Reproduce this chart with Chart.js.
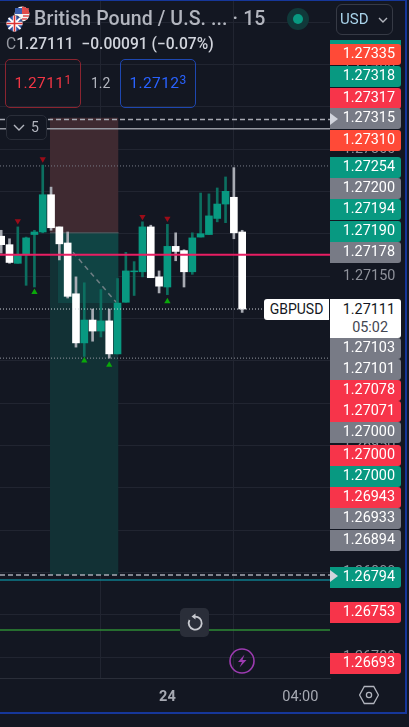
<!DOCTYPE html>
<html><head><meta charset="utf-8">
<style>
html,body{margin:0;padding:0;background:#131722;width:409px;height:727px;overflow:hidden;font-family:Roboto,sans-serif}
canvas{position:absolute;left:0;top:0}
.abs{position:absolute}
.tag{position:absolute;left:330px;width:71px;border-radius:0 3px 3px 0;color:#fff;font-size:14.4px;line-height:20px;text-align:right;padding-right:6px;box-sizing:border-box}
.arrow{position:absolute;left:330px;width:0;height:0;border-top:6px solid transparent;border-bottom:6px solid transparent;border-left:8px solid #d1d4dc}
sup{font-size:12px;vertical-align:4px;line-height:0}
</style>
<script src="https://cdn.jsdelivr.net/npm/chart.js@4"></script>
</head><body>
<canvas id="c" width="409" height="727"></canvas>
<div class="abs" style="left:330px;top:0;width:75px;height:42px;background:#131722"></div>
<div id="tags"></div>
<div class="abs" style="left:0;top:0;width:405px;height:711px;border:solid #16379a;border-width:1px 2px 2px 0;pointer-events:none"></div>

<svg class="abs" style="left:6px;top:6px" width="26" height="26" viewBox="0 0 26 26">
 <circle cx="16" cy="8" r="7.5" fill="#f5f5f5"/><path d="M16 .5a7.5 7.5 0 0 1 7.5 7.5H16z" fill="#e04b4b"/><path d="M9 2h7v6H9z" fill="#3a5fb0"/><path d="M18 3h5M18 6h5M17 10h6M16 13h5" stroke="#e04b4b" stroke-width="1.3"/>
 <circle cx="8.5" cy="17.5" r="8" fill="#2f4e9e" stroke="#131722" stroke-width=".6"/><path d="M2.5 12l12 11M14.5 12l-12 11" stroke="#fff" stroke-width="2"/><path d="M.5 17.5h16M8.5 9.5v16" stroke="#fff" stroke-width="3.4"/><path d="M.5 17.5h16M8.5 9.5v16" stroke="#d33" stroke-width="1.6"/>
</svg>
<div class="abs" style="left:34px;top:6px;color:#b2b5be;font-size:19.5px;font-weight:500;line-height:26px;white-space:nowrap;letter-spacing:.1px">British Pound / U.S. ... · 15</div>
<svg class="abs" style="left:286px;top:7px" width="24" height="24"><circle cx="12" cy="12" r="11" fill="#10393a"/><circle cx="12" cy="12" r="5" fill="#089981"/></svg>
<div class="abs" style="left:336px;top:4px;width:57px;height:31px;border:1px solid #363a45;border-radius:6px;box-sizing:border-box;color:#a9d3ea;font-size:15px;line-height:29px;padding-left:3px">USD<svg class="abs" style="left:41px;top:12px" width="10" height="7"><path d="M1 1l4 4 4-4" stroke="#b2b5be" stroke-width="1.4" fill="none"/></svg></div>
<div class="abs" style="left:6px;top:33px;font-size:15.6px;line-height:22px;color:#d1d4dc;white-space:nowrap;font-weight:500"><span style="color:#9598a1;font-weight:400">C</span>1.27111&nbsp; −0.00091 (−0.07%)</div>
<div class="abs" style="left:5px;top:59px;width:76px;height:49px;border:1.5px solid #8a2430;border-radius:5px;box-sizing:border-box;color:#f23645;font-size:15.5px;line-height:46px;text-align:center;letter-spacing:.4px">1.2711<sup>1</sup></div>
<div class="abs" style="left:91px;top:72px;color:#b2b5be;font-size:14px;line-height:22px">1.2</div>
<div class="abs" style="left:120px;top:59px;width:76px;height:49px;border:1.5px solid #1e47b0;border-radius:5px;box-sizing:border-box;color:#2962ff;font-size:15.5px;line-height:46px;text-align:center;letter-spacing:.4px">1.2712<sup>3</sup></div>
<div class="abs" style="left:6px;top:115px;width:41px;height:25px;border:1px solid #2a2e39;border-radius:5px;box-sizing:border-box;background:#131722;color:#b2b5be;font-size:14px;line-height:23px;padding-left:24px">5<svg class="abs" style="left:6px;top:8px" width="12" height="8"><path d="M1 1l5 5 5-5" stroke="#b2b5be" stroke-width="1.4" fill="none"/></svg></div>
<div class="abs" style="left:264px;top:299px;width:65px;height:21px;background:#fff;border-radius:3px 0 0 3px;color:#131722;font-size:14px;line-height:21px;text-align:center">GBPUSD</div>
<div class="abs" style="left:330px;top:299px;width:71px;height:39px;background:#fff;border-radius:0 3px 3px 0;color:#131722;font-size:14.4px;line-height:18px;text-align:right;padding:2px 6px 0 0;box-sizing:border-box">1.27111<br><span style="color:#434651;padding-right:7px">05:02</span></div>
<div class="abs" style="left:180px;top:608px;width:29px;height:29px;background:#2a2e39;border-radius:5px"><svg width="29" height="29"><path d="M9.5 12a6.5 6.5 0 1 0 5-3.4" stroke="#c8cad0" stroke-width="1.8" fill="none"/><path d="M15.5 5.5v6l-4-3z" fill="#c8cad0"/></svg></div>
<svg class="abs" style="left:229px;top:648px" width="26" height="26"><circle cx="13" cy="13" r="12" stroke="#9c3bb0" stroke-width="1.6" fill="none"/><path d="M15.5 6.5L9 14h4l-2.5 5.5L17.5 12h-4z" fill="#9c3bb0"/></svg>
<svg class="abs" style="left:359px;top:685px" width="20" height="20"><path d="M5.3 1.5h9.4l4.7 8.5-4.7 8.5H5.3L.6 10z" stroke="#b2b5be" stroke-width="1.3" fill="none"/><circle cx="10" cy="10" r="2.6" stroke="#b2b5be" stroke-width="1.3" fill="none"/></svg>

<script>
// candles (index along the time scale)
const opens  = [1.27197,1.27187,1.27165,1.27175,1.27199,1.27202,1.27246,1.27208,1.27189,1.27129,1.27071,1.27098,1.27085,1.27097,1.27058,1.27119,1.27155,1.27155,1.27208,1.27149,1.27137,1.27185,1.27180,1.27155,1.27196,1.27199,1.27218,1.27235,1.27243,1.27202];
const closes = [1.27187,1.27166,1.27175,1.27195,1.27202,1.27246,1.27207,1.27188,1.27126,1.27071,1.27098,1.27085,1.27097,1.27058,1.27118,1.27156,1.27156,1.27208,1.27148,1.27138,1.27185,1.27179,1.27155,1.27195,1.27200,1.27221,1.27235,1.27250,1.27201,1.27111];
const highs  = [1.27204,1.27194,1.27208,1.27196,1.27204,1.27281,1.27255,1.27208,1.27202,1.27149,1.27142,1.27111,1.27134,1.27111,1.27147,1.27178,1.27167,1.27214,1.27210,1.27156,1.27211,1.27201,1.27181,1.27201,1.27248,1.27247,1.27254,1.27267,1.27278,1.27204];
const lows   = [1.27177,1.27165,1.27165,1.27139,1.27137,1.27201,1.27204,1.27169,1.27124,1.27066,1.27055,1.27073,1.27078,1.27053,1.27058,1.27119,1.27127,1.27149,1.27148,1.27130,1.27128,1.27168,1.27137,1.27152,1.27196,1.27199,1.27214,1.27213,1.27194,1.27107];

// signal markers
const sellIndex = [2,5,17,20];
const sellPrice = [1.27215,1.27288,1.27220,1.27218];
const buyIndex  = [4,10,13,20];
const buyPrice  = [1.27131,1.27050,1.27045,1.27120];

// position tool zones: start index, end index, top, bottom
const stopZone   = [5.87,14.12,1.27337,1.27201];
const targetZone = [5.87,14.12,1.27201,1.26797];
const innerZone  = [6.83,14.12,1.27201,1.27118];
const entryLine  = [5.87,14.12,1.27201];
const tradeLineX = [8.64,13.93];
const tradeLineY = [1.27178,1.27118];

// horizontal levels
const levelPink = 1.27175, levelLast = 1.27111, levelDotHi = 1.27280, levelDotLo = 1.27053;
const levelDashHi = 1.27335, levelSolidHi = 1.27324, levelDashLo = 1.26797, levelTeal = 1.26791, levelGreen = 1.26732;

// axes
const yTickValues = [1.27450,1.27400,1.27350,1.27300,1.27250,1.27200,1.27150,1.27100,1.27050,1.27000,1.26950,1.26900,1.26850,1.26800,1.26750,1.26700];
const yTickUnlabelled = ['1.26850'];
const xTickValues = [20,36];
const xTickLabels = ['24','04:00'];
const xMin = -0.144, xMax = 39.57, yMin = 1.266752, yMax = 1.27476;

// price tags on the right edge
const tagText = ['1.27335','1.27318','1.27317','1.27315','1.27310','1.27254','1.27200','1.27194','1.27190','1.27178','1.27103','1.27101','1.27078','1.27071','1.27000','1.27000','1.27000','1.26943','1.26933','1.26894','1.26794','1.26753','1.26693'];
const tagColor= ['o','t','r','g','o','t','g','t','t','g','g','g','r','r','g','r','t','r','g','g','t','r','r'];
const tagTop  = [44,66,88,108,130,157,178,199,221,242,338,359,380,401,422,445,466,487,508,530,567,602,653];
const palette = {o:'#ff4a37',t:'#089981',r:'#f7344a',g:'#787b86'};

const tags = document.getElementById('tags');
const topStrip = document.createElement('div');
topStrip.className='abs'; topStrip.style.cssText='left:330px;top:40px;width:71px;height:6px;background:#089981';
tags.appendChild(topStrip);
tagText.forEach((t,i)=>{
  const d=document.createElement('div');
  d.className='tag'; d.textContent=t;
  d.style.top=tagTop[i]+'px'; d.style.height='21px'; d.style.background=palette[tagColor[i]];
  tags.appendChild(d);
});
[113,570].forEach(y=>{const a=document.createElement('div');a.className='arrow';a.style.top=y+'px';tags.appendChild(a);});

const isUp = opens.map((o,i)=>closes[i]>=o);
const hline = (y,color,width,dash,order)=>({type:'line',data:[{x:xMin,y},{x:xMax,y}],borderColor:color,borderWidth:width,borderDash:dash||[],pointRadius:0,order});
const zone = (z,color)=>({type:'line',data:[{x:z[0],y:z[2]},{x:z[1],y:z[2]}],borderWidth:0,pointRadius:0,backgroundColor:color,fill:{value:z[3]},order:20});
const noPadding = s=>{s.paddingTop=0;s.paddingBottom=0;s.paddingLeft=0;s.paddingRight=0};

new Chart(document.getElementById('c'),{
  type:'bar',
  data:{datasets:[
    zone(stopZone,'#3f2a31'),
    zone(targetZone,'#123135'),
    Object.assign(zone(innerZone,'#104444'),{order:19}),
    {type:'line',data:[{x:entryLine[0],y:entryLine[2]},{x:entryLine[1],y:entryLine[2]}],borderColor:'#5d6066',borderWidth:1,pointRadius:0,order:18},
    {type:'line',data:tradeLineX.map((x,i)=>({x,y:tradeLineY[i]})),borderColor:'#6f7f84',borderWidth:1.5,borderDash:[5,4],pointRadius:0,order:17},
    hline(levelDotHi,'#787b86',1,[1,2],9),
    hline(levelDotLo,'#9598a1',1,[1,2],9),
    hline(levelTeal,'#0e7c8c',1.5,[],9),
    hline(levelGreen,'#2e8b35',1.5,[],9),
    {type:'bar',grouped:false,barThickness:2,data:lows.map((l,i)=>({x:i,y:[l,highs[i]]})),backgroundColor:isUp.map(u=>u?'#0c6f60':'#a8abb3'),order:6},
    {type:'bar',grouped:false,barThickness:7,data:opens.map((o,i)=>({x:i,y:[o,closes[i]]})),backgroundColor:isUp.map(u=>u?'#089981':'#ffffff'),order:5},
    hline(levelPink,'#e91e63',2,[],3),
    hline(levelLast,'#d1d4dc',1,[1,2],3),
    hline(levelDashHi,'#a6a9b2',1.5,[5,3],3),
    hline(levelSolidHi,'#9598a1',1.5,[],3),
    hline(levelDashLo,'#a6a9b2',1.5,[5,3],3),
    {type:'line',showLine:false,data:sellIndex.map((x,i)=>({x,y:sellPrice[i]})),pointStyle:'triangle',rotation:180,pointRadius:3.6,pointBackgroundColor:'#9b0c18',pointBorderWidth:0,order:1},
    {type:'line',showLine:false,data:buyIndex.map((x,i)=>({x,y:buyPrice[i]})),pointStyle:'triangle',pointRadius:3.6,pointBackgroundColor:'#0aa80a',pointBorderWidth:0,order:1}
  ]},
  options:{
    responsive:false,animation:false,
    layout:{padding:0,autoPadding:false},
    plugins:{legend:{display:false},tooltip:{enabled:false}},
    scales:{
      x:{type:'linear',offset:false,min:xMin,max:xMax,
        afterFit:s=>{s.height=49;noPadding(s)},
        afterBuildTicks:s=>{s.ticks=xTickValues.map(value=>({value}))},
        grid:{color:'#212531',drawTicks:false,tickLength:0},
        border:{color:'#2a2e39'},
        ticks:{autoSkip:false,maxRotation:0,padding:11,color:'#a6a9b2',
          font:c=>({family:'Roboto',size:14.5,weight:c.tick&&c.tick.value===20?'bold':'normal'}),
          callback:v=>xTickLabels[xTickValues.indexOf(v)]}},
      y:{type:'linear',position:'right',min:yMin,max:yMax,
        afterFit:s=>{s.width=79;noPadding(s)},
        afterBuildTicks:s=>{s.ticks=yTickValues.map(value=>({value}))},
        grid:{color:'#212531',drawTicks:false,tickLength:0},
        border:{display:false},
        ticks:{autoSkip:false,padding:13,color:'#8f929b',
          font:{family:'Roboto',size:14.4},
          callback:v=>yTickUnlabelled.includes(v.toFixed(5))?'':v.toFixed(5)}}
    }
  }
});
</script>
</body></html>
